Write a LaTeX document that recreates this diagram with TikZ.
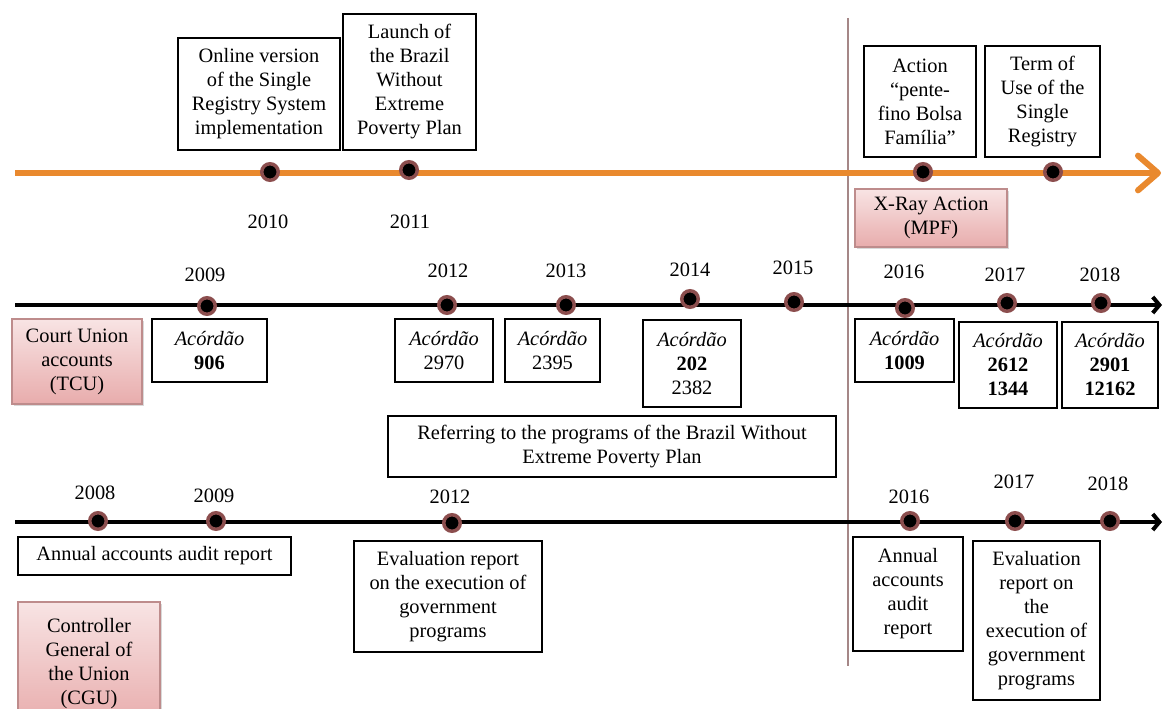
\documentclass[tikz,border=0pt]{standalone}
\usepackage{fontspec}
\setmainfont{Liberation Serif}
\usetikzlibrary{arrows.meta,shadows}

\definecolor{lineorange}{RGB}{233,137,46}
\definecolor{dotring}{RGB}{140,78,78}
\definecolor{sepline}{RGB}{165,135,135}
\definecolor{pinktop}{RGB}{248,228,228}
\definecolor{pinkbot}{RGB}{232,172,172}
\definecolor{pinkedge}{RGB}{190,140,140}

\begin{document}
\begin{tikzpicture}[x=0.75pt,y=-0.75pt,
  txt/.style={font=\fontsize{15.3}{18}\selectfont},
  box/.style={txt,draw,line width=0.9pt,align=center,inner sep=1pt},
  pinkbox/.style={box,draw=pinkedge,top color=pinktop,bottom color=pinkbot,
    drop shadow={opacity=0.3,shadow xshift=1.5pt,shadow yshift=-1.5pt}},
  dot/.style={circle,fill=black,draw=dotring,line width=2.6pt,inner sep=0pt,minimum size=12.4pt}]
\clip (0,0) rectangle (1166,709);

% Separation line
\coordinate (sepTop) at (848,18);
\coordinate (sepBot) at (848,666);
\draw[sepline,line width=0.8pt] (sepTop) -- (sepBot);

% Timelines
\coordinate (oStart) at (15,173);
\coordinate (oEnd) at (1161,173);
\draw[lineorange,line width=4.5pt,-{Straight Barb[length=15pt,width=26pt,round]}] (oStart) -- (oEnd);
\coordinate (tStart) at (15,305);
\coordinate (tEnd) at (1162,305);
\draw[line width=3pt,-{Straight Barb[length=5pt,width=12pt]}] (tStart) -- (tEnd);
\coordinate (cStart) at (15,522);
\coordinate (cEnd) at (1162,522);
\draw[line width=3pt,-{Straight Barb[length=5pt,width=12pt]}] (cStart) -- (cEnd);

% Dots
\foreach \n/\x/\y in {o10/270/172,o11/409/170,oPF/923/172,oTU/1053/172,
    t09/207/306,t12/447/305,t13/566/305,t14/690/299,t15/794/302,t16/905/308,t17/1007/303,t18/1101/303,
    c08/98/521,c09/216/521,c12/452/523,c16/910/521,c17/1015/521,c18/1110/521}
  \node[dot] (\n) at (\x,\y) {};

% Years
\foreach \n/\x/\y/\t in {yo10/268/222/2010,yo11/410/222/2011,
    yt09/205/275/2009,yt12/448/271/2012,yt13/566/271/2013,yt14/690/270/2014,yt15/793/268/2015,
    yt16/904/272/2016,yt17/1005/275/2017,yt18/1100/275/2018,
    yc08/95/493/2008,yc09/214/496/2009,yc12/450/497/2012,yc16/909/497/2016,yc17/1014/482/2017,yc18/1108/484/2018}
  \node[txt] (\n) at (\x,\y) {\t};

% Events above the orange line
\node[box,minimum width=121.5pt,minimum height=84pt] (online) at (259,94)
  {Online version\\of the Single\\Registry System\\implementation};
\node[box,minimum width=99.75pt,minimum height=102pt] (launch) at (409.5,82)
  {Launch of\\the Brazil\\Without\\Extreme\\Poverty Plan};
\node[box,minimum width=84pt,minimum height=83.25pt] (pente) at (920,101.5)
  {Action\\“pente-\\fino Bolsa\\Família”};
\node[box,minimum width=86.25pt,minimum height=83.25pt] (term) at (1042.5,101.5)
  {Term of\\Use of the\\Single\\Registry};
\node[pinkbox,minimum width=114pt,minimum height=43.5pt] (xray) at (931,218)
  {X-Ray Action\\(MPF)};

% Court Union accounts
\node[pinkbox,minimum width=97.5pt,minimum height=63.75pt] (tcu) at (77,361.5)
  {Court Union\\accounts\\(TCU)};
\node[box,minimum width=86.25pt,minimum height=47.25pt] (a906) at (209.5,350.5)
  {\textit{Acórdão}\\\textbf{906}};
\node[box,minimum width=73.5pt,minimum height=47.25pt] (a2970) at (444,350.5)
  {\textit{Acórdão}\\2970};
\node[box,minimum width=71.25pt,minimum height=47.25pt] (a2395) at (552.5,350.5)
  {\textit{Acórdão}\\2395};
\node[box,minimum width=73.5pt,minimum height=65.25pt] (a202) at (692,363.5)
  {\textit{Acórdão}\\\textbf{202}\\2382};
\node[box,minimum width=74.25pt,minimum height=47.25pt] (a1009) at (904.5,350.5)
  {\textit{Acórdão}\\\textbf{1009}};
\node[box,minimum width=73.5pt,minimum height=64.5pt] (a2612) at (1008,365)
  {\textit{Acórdão}\\\textbf{2612}\\\textbf{1344}};
\node[box,minimum width=72pt,minimum height=64.5pt] (a2901) at (1110,365)
  {\textit{Acórdão}\\\textbf{2901}\\\textbf{12162}};
\node[box,minimum width=336pt,minimum height=45.75pt] (refer) at (612,446.5)
  {Referring to the programs of the Brazil Without\\Extreme Poverty Plan};

% Controller General of the Union
\node[box,minimum width=204.75pt,minimum height=28.5pt] (annualA) at (154.5,556)
  {Annual accounts audit report};
\node[pinkbox,minimum width=106.5pt,minimum height=92.25pt] (cgu) at (89,663.5)
  {Controller\\General of\\the Union\\(CGU)};
\node[box,minimum width=141pt,minimum height=83.25pt] (evalA) at (448,596.5)
  {Evaluation report\\on the execution of\\government\\programs};
\node[box,minimum width=82.5pt,minimum height=85.5pt] (annualB) at (908,594)
  {Annual\\accounts\\audit\\report};
\node[box,minimum width=95.25pt,minimum height=119.25pt] (evalB) at (1036.5,620.5)
  {Evaluation\\report on\\the\\execution of\\government\\programs};
\end{tikzpicture}
\end{document}
